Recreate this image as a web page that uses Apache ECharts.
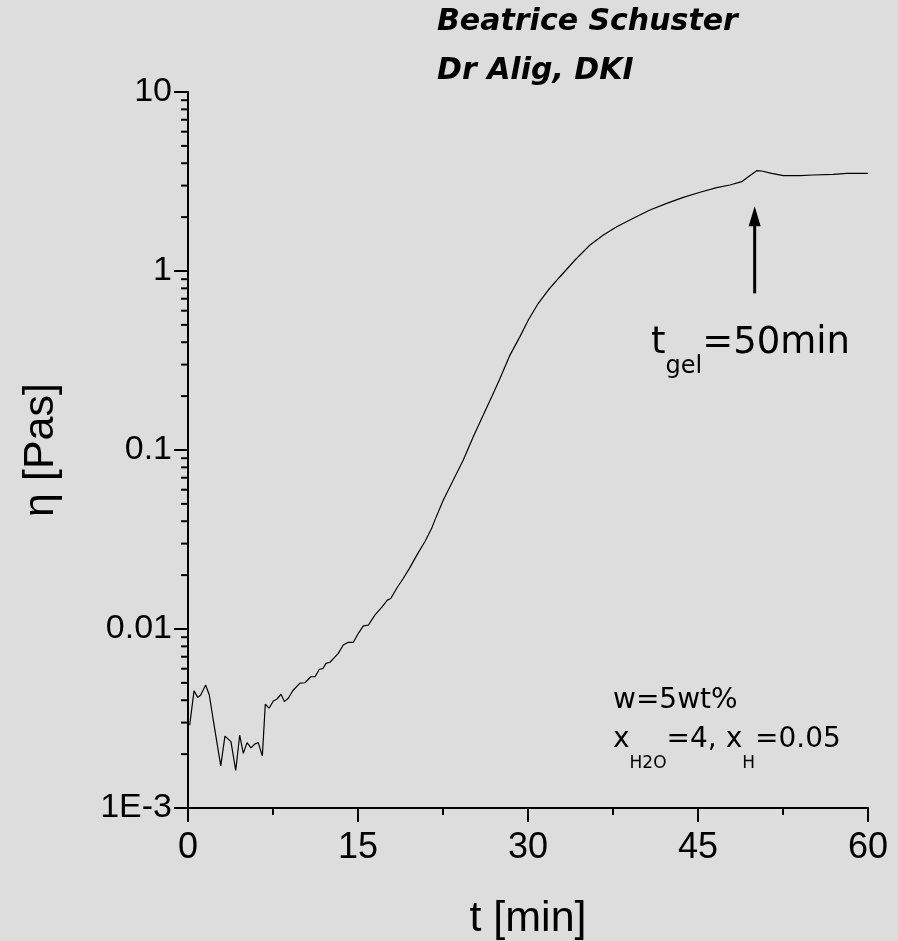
<!DOCTYPE html>
<html>
<head>
<meta charset="utf-8">
<title>Viscosity vs time</title>
<script src="https://cdn.jsdelivr.net/npm/echarts@6/dist/echarts.min.js"></script>
<style>
  html, body { margin: 0; padding: 0; background: #dddddd; }
  #chart { width: 898px; height: 941px; }
</style>
</head>
<body>
<div id="chart"></div>
<script>
// t [min]
const timeMin = [
  0.15, 0.53, 0.86, 1.12, 1.56, 1.88, 2.23, 2.89, 3.26, 3.79,
  4.21, 4.56, 4.88, 5.21, 5.56, 5.91, 6.20, 6.56, 6.82, 7.15,
  7.53, 7.83, 8.21, 8.50, 8.85, 9.24, 9.88, 10.32, 10.83, 11.21,
  11.59, 11.89, 12.18, 12.53, 13.26, 13.70, 14.14, 14.59, 15.03, 15.47,
  15.91, 16.50, 17.09, 17.59, 17.89, 18.42, 19.00, 19.50, 20.03, 20.32,
  20.91, 21.50, 21.79, 22.53, 23.41, 24.29, 25.17, 25.91, 26.80, 27.47,
  28.41, 29.29, 30.03, 30.91, 31.79, 32.82, 34.15, 34.59, 35.47, 36.65,
  37.83, 39.29, 40.76, 42.24, 43.70, 45.18, 46.65, 47.82, 48.86, 49.44,
  50.18, 50.62, 51.50, 52.53, 54.00, 55.18, 56.94, 58.12, 60.00
];
// eta [Pas]
const viscosity = [
  0.0029, 0.00451, 0.00415, 0.00428, 0.00486, 0.00428, 0.0031, 0.00172, 0.00252, 0.00235,
  0.00162, 0.00255, 0.00202, 0.00232, 0.00217, 0.00228, 0.00232, 0.00195, 0.0038, 0.00361,
  0.00396, 0.00405, 0.00432, 0.00393, 0.0041, 0.00452, 0.00498, 0.00501, 0.00541, 0.00541,
  0.00596, 0.006, 0.00643, 0.00652, 0.00731, 0.00814, 0.00843, 0.00843, 0.00946, 0.0104,
  0.0105, 0.0120, 0.0132, 0.0145, 0.0148, 0.0169, 0.0192, 0.0216, 0.0248, 0.0267,
  0.0308, 0.0365, 0.0407, 0.0526, 0.068, 0.0879, 0.1187, 0.150, 0.1985, 0.246,
  0.339, 0.430, 0.532, 0.660, 0.783, 0.929, 1.152, 1.228, 1.398, 1.589,
  1.768, 1.97, 2.192, 2.388, 2.58, 2.753, 2.92, 3.023, 3.155, 3.364,
  3.633, 3.62, 3.514, 3.407, 3.407, 3.438, 3.469, 3.514, 3.514
];

const xTicks = [0, 15, 30, 45, 60];
const yTickValues = [0.001, 0.01, 0.1, 1, 10];
const yTickLabels = ['1E-3', '0.01', '0.1', '1', '10'];

// gel point arrow
const gelTime = 50;
const arrowFrom = 0.75;
const arrowTo = 2.3;

// log minor ticks 2..9 in each decade
const yMinorTicks = [];
for (let i = 0; i < yTickValues.length - 1; i++) {
  for (let k = 2; k <= 9; k++) {
    yMinorTicks.push(+(k * yTickValues[i]).toPrecision(3));
  }
}

const axisFont = 'Liberation Sans, Arial, sans-serif';
const noteFont = 'DejaVu Sans, sans-serif';

const chart = echarts.init(document.getElementById('chart'));

const option = {
  backgroundColor: '#dddddd',
  animation: false,
  grid: { left: 188, right: 30, top: 92, bottom: 133, containLabel: false, outerBoundsMode: 'none' },
  xAxis: {
    type: 'value',
    min: xTicks[0],
    max: xTicks[xTicks.length - 1],
    interval: xTicks[1] - xTicks[0],
    name: 't [min]',
    nameLocation: 'middle',
    nameGap: 90,
    nameTextStyle: { fontFamily: axisFont, fontSize: 43, color: '#000' },
    axisLine: { onZero: false, lineStyle: { color: '#000', width: 2 } },
    axisTick: { inside: false, length: 14, lineStyle: { color: '#000', width: 2 } },
    minorTick: { show: true, splitNumber: 2, length: 7, lineStyle: { color: '#000', width: 2 } },
    axisLabel: { margin: 22, fontFamily: axisFont, fontSize: 36, color: '#000' },
    splitLine: { show: false }
  },
  yAxis: {
    type: 'log',
    logBase: 10,
    min: yTickValues[0],
    max: yTickValues[yTickValues.length - 1],
    name: 'η [Pas]',
    nameLocation: 'middle',
    nameRotate: 90,
    nameGap: 125,
    nameTextStyle: { fontFamily: axisFont, fontSize: 43, color: '#000' },
    axisLine: { show: true, lineStyle: { color: '#000', width: 2 } },
    axisTick: { show: true, inside: false, length: 14, lineStyle: { color: '#000', width: 2 } },
    minorTick: { show: false },
    axisLabel: {
      margin: 16,
      fontFamily: axisFont,
      fontSize: 34,
      color: '#000',
      formatter: function (v) {
        for (let i = 0; i < yTickValues.length; i++) {
          if (Math.abs(Math.log10(v) - Math.log10(yTickValues[i])) < 1e-6) return yTickLabels[i];
        }
        return '';
      }
    },
    splitLine: { show: false }
  },
  graphic: [
    {
      type: 'text',
      style: {
        x: 437, y: 22, text: 'Beatrice Schuster',
        font: 'italic bold 30px ' + noteFont, fill: '#000', verticalAlign: 'middle'
      }
    },
    {
      type: 'text',
      style: {
        x: 437, y: 71, text: 'Dr Alig, DKI',
        font: 'italic bold 30px ' + noteFont, fill: '#000', verticalAlign: 'middle'
      }
    },
    {
      type: 'text',
      style: {
        x: 651, y: 325, verticalAlign: 'top',
        text: '{m|t}{s|gel}{m|=50min}',
        rich: {
          m: { fontFamily: noteFont, fontSize: 37, lineHeight: 40, verticalAlign: 'top', fill: '#000' },
          s: { fontFamily: noteFont, fontSize: 24, lineHeight: 24, padding: [30, 0, 0, 0], verticalAlign: 'top', fill: '#000' }
        }
      }
    },
    {
      type: 'text',
      style: {
        x: 613, y: 701, text: 'w=5wt%',
        font: '28px ' + noteFont, fill: '#000', verticalAlign: 'middle'
      }
    },
    {
      type: 'text',
      style: {
        x: 613, y: 726, verticalAlign: 'top',
        text: '{m|x}{s|H2O}{m|=4, x}{s|H}{m|=0.05}',
        rich: {
          m: { fontFamily: noteFont, fontSize: 28, lineHeight: 30, verticalAlign: 'top', fill: '#000' },
          s: { fontFamily: noteFont, fontSize: 17, lineHeight: 17, padding: [29, 0, 0, 0], verticalAlign: 'top', fill: '#000' }
        }
      }
    }
  ],
  series: [
    {
      type: 'line',
      data: timeMin.map((t, i) => [t, viscosity[i]]),
      showSymbol: false,
      lineStyle: { color: '#000', width: 1.2 },
      silent: true
    },
    {
      // minor ticks of the log axis
      type: 'custom',
      clip: false,
      silent: true,
      data: yMinorTicks.map(v => [xTicks[0], v]),
      renderItem: function (params, api) {
        const p = api.coord([api.value(0), api.value(1)]);
        return {
          type: 'line',
          shape: { x1: p[0] - 7, y1: p[1], x2: p[0], y2: p[1] },
          style: { stroke: '#000', lineWidth: 2 }
        };
      }
    },
    {
      // arrow pointing at gel time
      type: 'custom',
      clip: false,
      silent: true,
      data: [[gelTime, arrowFrom, arrowTo]],
      renderItem: function (params, api) {
        const a = api.coord([api.value(0), api.value(1)]);
        const b = api.coord([api.value(0), api.value(2)]);
        return {
          type: 'group',
          children: [
            {
              type: 'line',
              shape: { x1: a[0], y1: a[1], x2: b[0], y2: b[1] + 18 },
              style: { stroke: '#000', lineWidth: 3 }
            },
            {
              type: 'polygon',
              shape: { points: [[b[0], b[1]], [b[0] - 6, b[1] + 20], [b[0] + 6, b[1] + 20]] },
              style: { fill: '#000' }
            }
          ]
        };
      }
    }
  ]
};

option && chart.setOption(option);
</script>
</body>
</html>
